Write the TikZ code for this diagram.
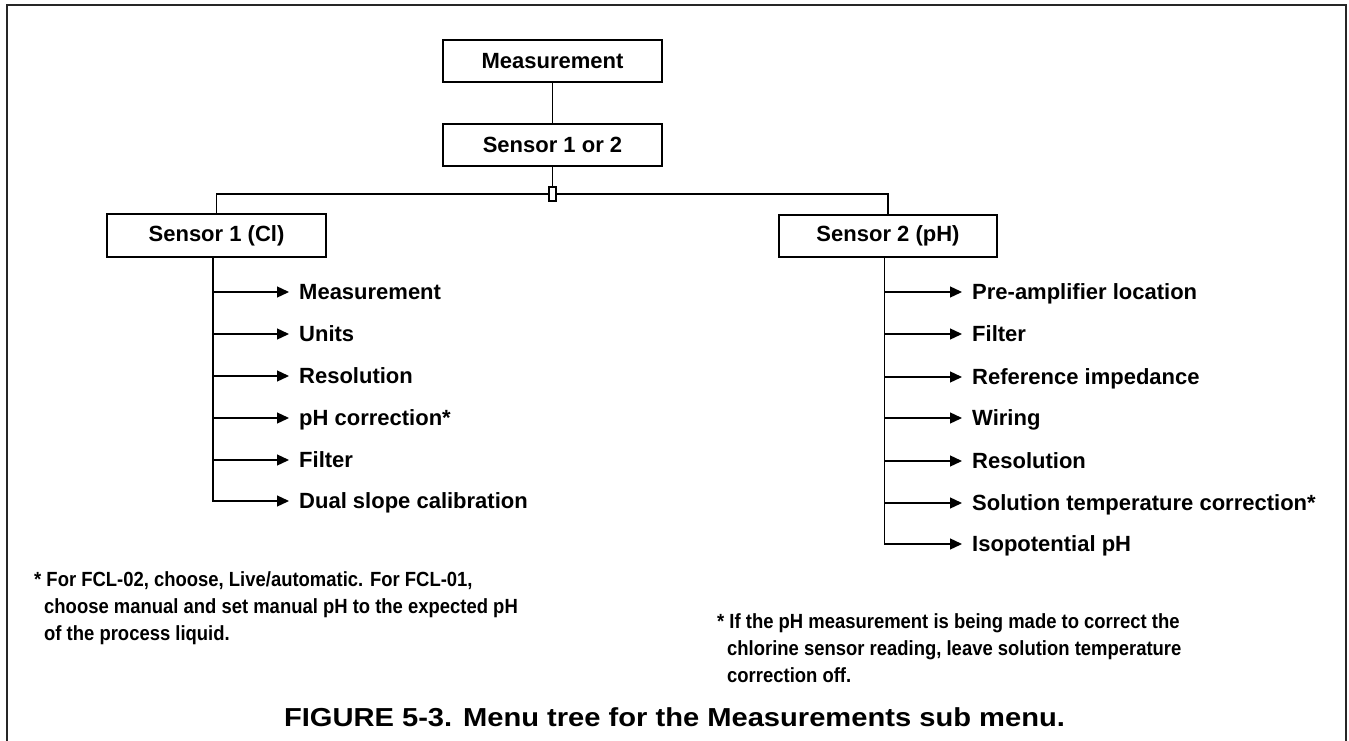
\documentclass[tikz,border=0pt]{standalone}
\usepackage{fontspec}
\setmainfont{Liberation Sans}
\newfontfamily\narrowfont{Liberation Sans}[FakeStretch=0.9]
\newfontfamily\widefont{Liberation Sans}[FakeStretch=1.12]
\usetikzlibrary{arrows.meta}
\begin{document}
\begin{tikzpicture}[x=1pt,y=-1pt,
  box/.style={draw, line width=1.3pt, minimum width=219pt, minimum height=42pt, inner sep=0pt,
    font=\fontsize{22}{26}\selectfont\bfseries},
  item/.style={anchor=west, inner xsep=10pt, inner ysep=0pt, text height=15.75pt, text depth=0pt,
    font=\fontsize{22}{26}\selectfont\bfseries},
  conn/.style={line width=1.3pt},
  arr/.style={line width=1.3pt, -{Triangle[length=12pt,width=11pt]}},
  note/.style={anchor=north west, align=left, inner sep=0pt,
    font=\narrowfont\fontsize{20.5}{27}\selectfont\bfseries},
  caption/.style={inner sep=0pt, text height=18.6pt, text depth=0pt,
    font=\widefont\fontsize{26}{30}\selectfont\bfseries},
  frame/.style={draw=black!85, line width=2.6pt},
]
\useasboundingbox (0,0) rectangle (1349,741);
% outer frame (open at the bottom)
\coordinate (fbl) at (7,742);
\coordinate (ftl) at (7,5);
\coordinate (ftr) at (1346,5);
\coordinate (fbr) at (1346,742);
\draw[frame] (fbl) -- (ftl) -- (ftr) -- (fbr);

% top of tree
\node[box] (m) at (552.5,61) {Measurement};
\node[box] (s) at (552.5,145) {Sensor 1 or 2};
\node[draw, fill=white, line width=1.1pt, minimum width=7pt, minimum height=14pt, inner sep=0pt] (j) at (552.5,194) {};
\node[box, minimum height=43pt] (s1) at (216.5,235.5) {Sensor 1 (Cl)};
\node[box, minimum width=218pt] (s2) at (888,236) {Sensor 2 (pH)};

\draw[conn] (m) -- (s);
\draw[conn] (s) -- (j);
\draw[conn] (j.west) -| (s1.north);
\draw[conn] (j.east) -| (s2.north);

% left branch
\node[item] (l1) at (289,292) {Measurement};
\node[item] (l2) at (289,334) {Units};
\node[item] (l3) at (289,376) {Resolution};
\node[item] (l4) at (289,418) {pH correction*};
\node[item] (l5) at (289,460) {Filter};
\node[item] (l6) at (289,501) {Dual slope calibration};
\foreach \n in {l1,l2,l3,l4,l5,l6}
  \draw[arr] ([xshift=-3.5pt]s1.south) |- (\n.west);

% right branch
\node[item] (r1) at (962,292) {Pre-amplifier location};
\node[item] (r2) at (962,334) {Filter};
\node[item] (r3) at (962,377) {Reference impedance};
\node[item] (r4) at (962,418) {Wiring};
\node[item] (r5) at (962,461) {Resolution};
\node[item] (r6) at (962,503) {Solution temperature correction*};
\node[item] (r7) at (962,544) {Isopotential pH};
\foreach \n in {r1,r2,r3,r4,r5,r6,r7}
  \draw[arr] ([xshift=-3.5pt]s2.south) |- (\n.west);

% footnotes
\node[note] (nl) at (34,571) {* For FCL-02, choose, Live/automatic. For FCL-01,\\
\hspace{10pt}choose manual and set manual pH to the expected pH\\
\hspace{10pt}of the process liquid.};
\node[note] (nr) at (717,613) {* If the pH measurement is being made to correct the\\
\hspace{10pt}chlorine sensor reading, leave solution temperature\\
\hspace{10pt}correction off.};

% caption
\node[caption] (cap) at (674.5,717) {FIGURE 5-3. Menu tree for the Measurements sub menu.};
\end{tikzpicture}
\end{document}
